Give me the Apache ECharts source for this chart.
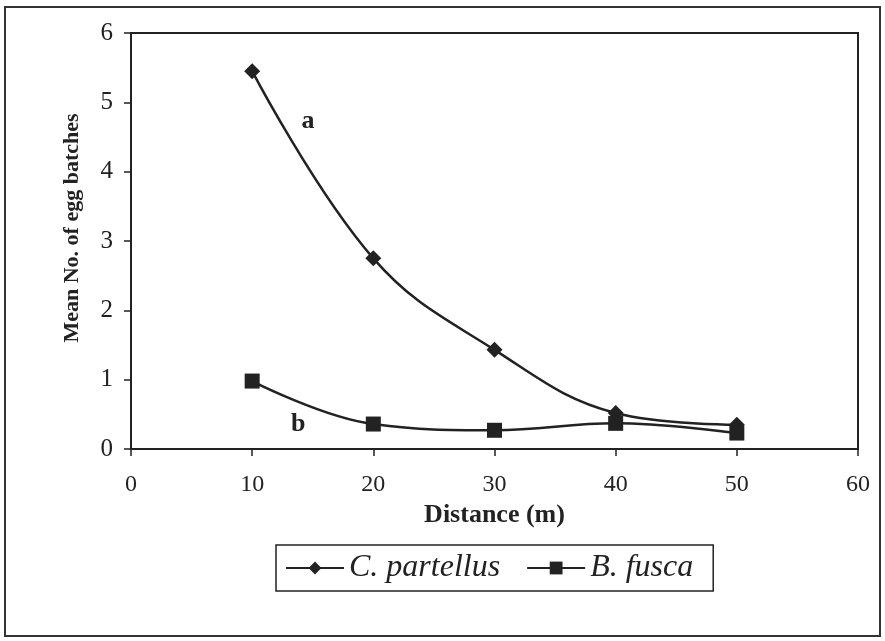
<!DOCTYPE html>
<html>
<head>
<meta charset="utf-8">
<script src="https://cdn.jsdelivr.net/npm/echarts@6/dist/echarts.min.js"></script>
<style>
  html, body { margin: 0; padding: 0; background: #fff; }
  #chart { width: 885px; height: 641px; }
</style>
</head>
<body>
<div id="chart"></div>
<script>
// distances (m) and mean egg batch counts
let distances = [10, 20, 30, 40, 50];
let partellus = [5.45, 2.75, 1.43, 0.52, 0.35];
let fusca = [0.98, 0.36, 0.27, 0.37, 0.23];
// significance letters, placed in data coordinates
let letters = [['a', 14.6, 4.72], ['b', 13.8, 0.35]];

let font = 'Liberation Serif';

let myChart = echarts.init(document.getElementById('chart'));

let option = {
    animation: false,
    backgroundColor: '#fff',
    textStyle: { fontFamily: font, color: '#222' },
    grid: {
        left: 131, right: 27, top: 33, bottom: 192,
        show: true,
        borderColor: '#222',
        borderWidth: 2,
        backgroundColor: 'transparent'
    },
    legend: {
        left: 276, top: 545,
        padding: [7, 20, 7, 9],
        itemGap: 26,
        itemWidth: 58, itemHeight: 16,
        borderColor: '#222',
        borderWidth: 1.5,
        borderRadius: 0,
        textStyle: { fontFamily: font, fontSize: 32, fontStyle: 'italic', color: '#222' },
        data: ['C. partellus', 'B. fusca']
    },
    xAxis: {
        type: 'value',
        min: 0, max: 60, interval: 10,
        name: 'Distance (m)',
        nameLocation: 'middle',
        nameGap: 48,
        nameTextStyle: { fontFamily: font, fontSize: 26, fontWeight: 'bold', color: '#222' },
        axisLine: { lineStyle: { color: '#222', width: 2 } },
        axisTick: { length: 7, lineStyle: { color: '#222', width: 1.5 } },
        axisLabel: { fontFamily: font, fontSize: 24, color: '#222', margin: 24 },
        splitLine: { show: false }
    },
    yAxis: {
        type: 'value',
        min: 0, max: 6, interval: 1,
        name: 'Mean No. of egg batches',
        nameLocation: 'middle',
        nameGap: 48,
        nameTextStyle: { fontFamily: font, fontSize: 22, fontWeight: 'bold', color: '#222', padding: [0, 0, 0, 26] },
        axisLine: { show: true, lineStyle: { color: '#222', width: 2 } },
        axisTick: { show: true, length: 7, lineStyle: { color: '#222', width: 1.5 } },
        axisLabel: { fontFamily: font, fontSize: 25, color: '#222', margin: 18 },
        splitLine: { show: false }
    },
    series: [
        {
            name: 'C. partellus',
            type: 'line',
            smooth: 0.4,
            data: distances.map((d, i) => [d, partellus[i]]),
            symbol: 'diamond',
            symbolSize: 16,
            lineStyle: { color: '#222', width: 2.5 },
            itemStyle: { color: '#222' }
        },
        {
            name: 'B. fusca',
            type: 'line',
            smooth: 0.4,
            data: distances.map((d, i) => [d, fusca[i]]),
            symbol: 'rect',
            symbolSize: 15,
            lineStyle: { color: '#222', width: 2.5 },
            itemStyle: { color: '#222' }
        }
    ]
};

myChart.setOption(option, true);

// letters and outer frame
let graphics = letters.map(function (l) {
    let p = myChart.convertToPixel({ gridIndex: 0 }, [l[1], l[2]]);
    return {
        type: 'text',
        x: p[0], y: p[1],
        style: {
            text: l[0], fill: '#222',
            font: 'bold 26px ' + font,
            align: 'center', verticalAlign: 'middle'
        }
    };
});
graphics.push({
    type: 'rect',
    shape: { x: 5, y: 7, width: 875, height: 629 },
    style: { fill: 'none', stroke: '#333', lineWidth: 2 },
    silent: true
});
myChart.setOption({ graphic: graphics });
</script>
</body>
</html>
